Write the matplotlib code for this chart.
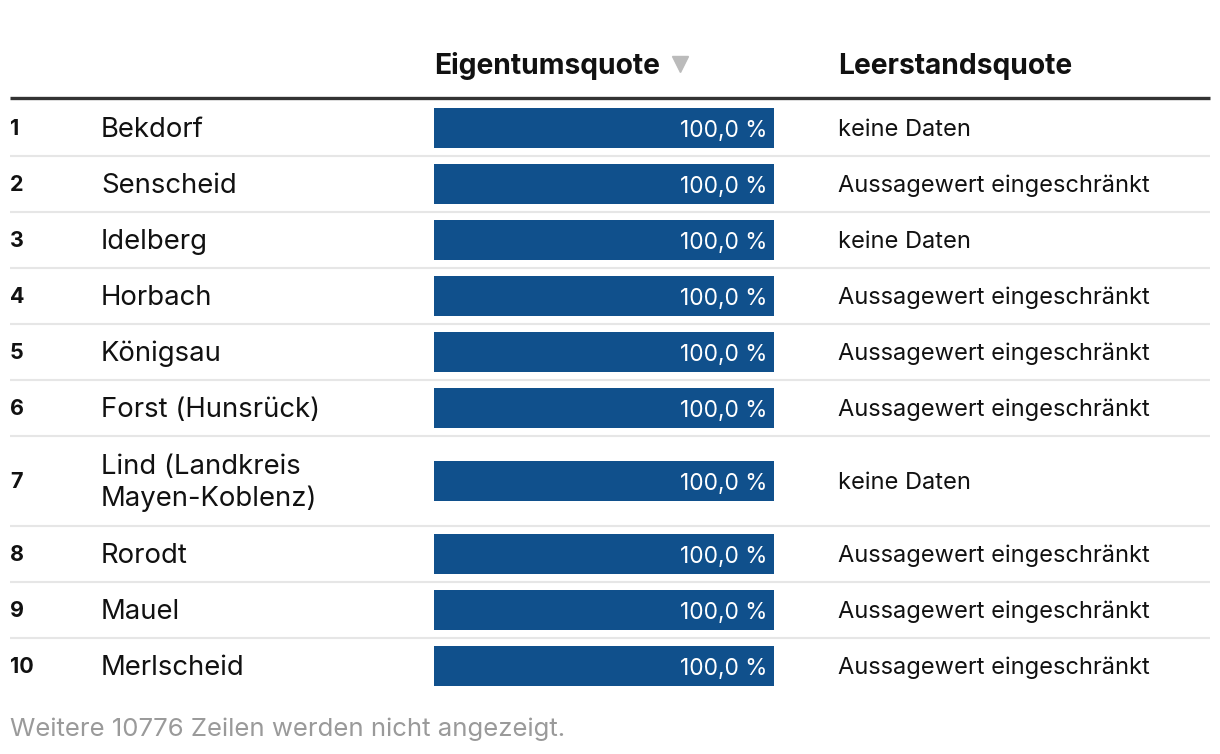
import matplotlib
matplotlib.use('Agg')
import matplotlib.pyplot as plt

# Daten
ranks = ['1', '2', '3', '4', '5', '6', '7', '8', '9', '10']
gemeinden = ['Bekdorf', 'Senscheid', 'Idelberg', 'Horbach', 'Königsau',
             'Forst (Hunsrück)', 'Lind (Landkreis\nMayen-Koblenz)', 'Rorodt',
             'Mauel', 'Merlscheid']
eigentumsquote = [100.0, 100.0, 100.0, 100.0, 100.0, 100.0, 100.0, 100.0, 100.0, 100.0]
leerstandsquote = ['keine Daten', 'Aussagewert eingeschränkt', 'keine Daten',
                   'Aussagewert eingeschränkt', 'Aussagewert eingeschränkt',
                   'Aussagewert eingeschränkt', 'keine Daten',
                   'Aussagewert eingeschränkt', 'Aussagewert eingeschränkt',
                   'Aussagewert eingeschränkt']
header = ['Eigentumsquote', 'Leerstandsquote']
footer = 'Weitere 10776 Zeilen werden nicht angezeigt.'

plt.rcParams['font.family'] = ['Inter', 'DejaVu Sans']

W, H = 1220, 754
fig = plt.figure(figsize=(W / 100, H / 100), dpi=100)
ax = fig.add_axes([0, 0, 1, 1])
ax.set_xlim(0, W)
ax.set_ylim(H, 0)
ax.axis('off')

blue = '#10508c'
bar_x0, bar_len = 434, 340

# Kopfzeile
ax.text(434, 66.5, header[0], fontsize=20.3, fontweight='bold', ha='left', va='center', color='#111111')
ax.plot([680], [64], marker='v', markersize=11, color='#bbbbbb', linestyle='none')
ax.text(838, 66.5, header[1], fontsize=20.3, fontweight='bold', ha='left', va='center', color='#111111')
ax.plot([10, 1210], [97.5, 97.5], color='#333333', lw=2.4, solid_capstyle='butt')

# Zeilen
top = 100
for i in range(len(gemeinden)):
    h = 90 if '\n' in gemeinden[i] else 56
    c = top + h / 2 - 0.5
    ax.text(10, c + 1.5, ranks[i], fontsize=15.5, fontweight='bold', ha='left', va='center', color='#111111')
    ax.text(101, c + 2.5, gemeinden[i], fontsize=19.8, ha='left', va='center', color='#111111',
            linespacing=1.28)
    w = eigentumsquote[i] / 100 * bar_len
    ax.barh(c, w, left=bar_x0, height=40, color=blue, linewidth=0)
    ax.text(bar_x0 + w - 7, c + 3.5, f'{eigentumsquote[i]:.1f} %'.replace('.', ','),
            fontsize=16.3, ha='right', va='center', color='white')
    ax.text(838, c + 2.5, leerstandsquote[i], fontsize=17, ha='left', va='center', color='#111111')
    top += h
    if i < len(gemeinden) - 1:
        ax.plot([10, 1210], [top - 0.5, top - 0.5], color='#e6e6e6', lw=1.5, solid_capstyle='butt')

ax.text(10, 729.5, footer, fontsize=18.5, ha='left', va='center', color='#9a9a9a')

fig.savefig('out.png', dpi=100, facecolor='white')
